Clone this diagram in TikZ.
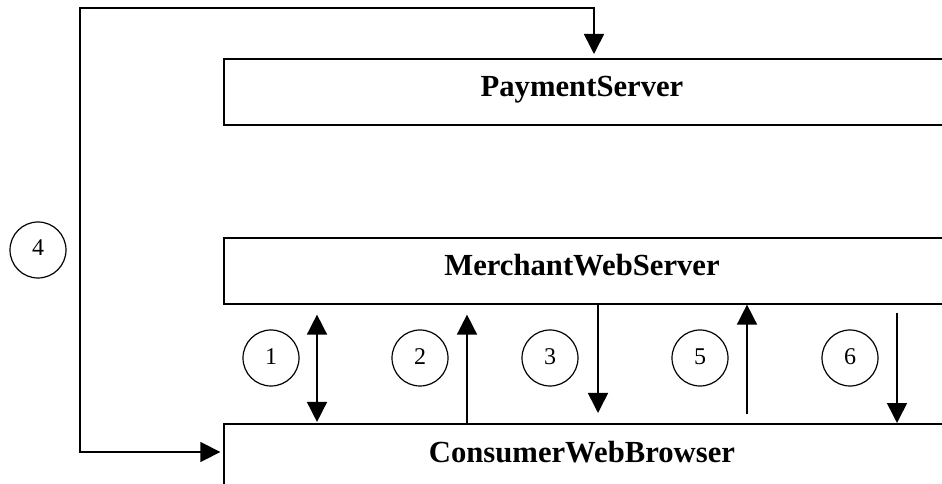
\documentclass[tikz,border=0pt]{standalone}
\usepackage{fontspec}
\setmainfont{Liberation Serif}
\usetikzlibrary{arrows.meta}

\tikzset{
  box/.style={draw,line width=1.2pt,rectangle,anchor=north west,minimum width=560pt,inner sep=0pt},
  title/.style={font=\fontsize{23}{26}\selectfont\bfseries,anchor=base},
  num/.style={draw,circle,line width=0.9pt,minimum size=42pt,inner sep=0pt,text height=0.9em,text depth=0pt,font=\fontsize{18}{20}\selectfont},
  arr/.style={line width=1.2pt,-{Triangle[length=15pt,width=15pt]}},
  both/.style={line width=1.2pt,{Triangle[length=15pt,width=15pt]}-{Triangle[length=15pt,width=15pt]}}
}

\begin{document}
\begin{tikzpicture}[x=0.75pt,y=-0.75pt]

%fixes the page and cuts the open right side of the boxes
\useasboundingbox (0,0) rectangle (942,484);
\clip (0,0) rectangle (942,484);

%draws the three boxes
\node[box,minimum height=49.5pt] (pay) at (223,58) {};
\node[box,minimum height=49.5pt] (merch) at (223,237) {};
\node[box,minimum height=60pt] (cons) at (223,423) {};

\node[title] (paytext) at (582,97) {PaymentServer};
\node[title] (merchtext) at (582,276) {MerchantWebServer};
\node[title] (constext) at (582,462) {ConsumerWebBrowser};

%draws the numbered circles
\node[num] (n4) at (38,250) {4};
\node[num] (n1) at (271,358) {1};
\node[num] (n2) at (420,358) {2};
\node[num] (n3) at (550,358) {3};
\node[num] (n5) at (700,358) {5};
\node[num] (n6) at (850,358) {6};

%columns of the arrows
\coordinate (a1) at (317,0);
\coordinate (a2) at (467,0);
\coordinate (a3) at (598,0);
\coordinate (a5) at (747,0);
\coordinate (a6) at (897,0);

%draws the arrows between browser and merchant
\draw[both,shorten >=7.5pt,shorten <=0.8pt] (cons.north -| a1) -- (merch.south -| a1);
\draw[arr,shorten >=7.5pt] (cons.north -| a2) -- (merch.south -| a2);
\draw[arr,shorten >=7.5pt] (merch.south -| a3) -- (cons.north -| a3);
\draw[arr,shorten <=7pt] (cons.north -| a5) -- (merch.south -| a5);
\draw[arr,shorten <=6pt] (merch.south -| a6) -- (cons.north -| a6);

%draws the loop round to the payment server
\coordinate (top) at (594,8);
\coordinate (corner) at (80,8);
\coordinate (bend) at (80,452);
\draw[both,shorten <=3pt,shorten >=2pt] (pay.north -| top) -- (top) -- (corner) -- (bend) -- (bend -| cons.west);

\end{tikzpicture}
\end{document}
